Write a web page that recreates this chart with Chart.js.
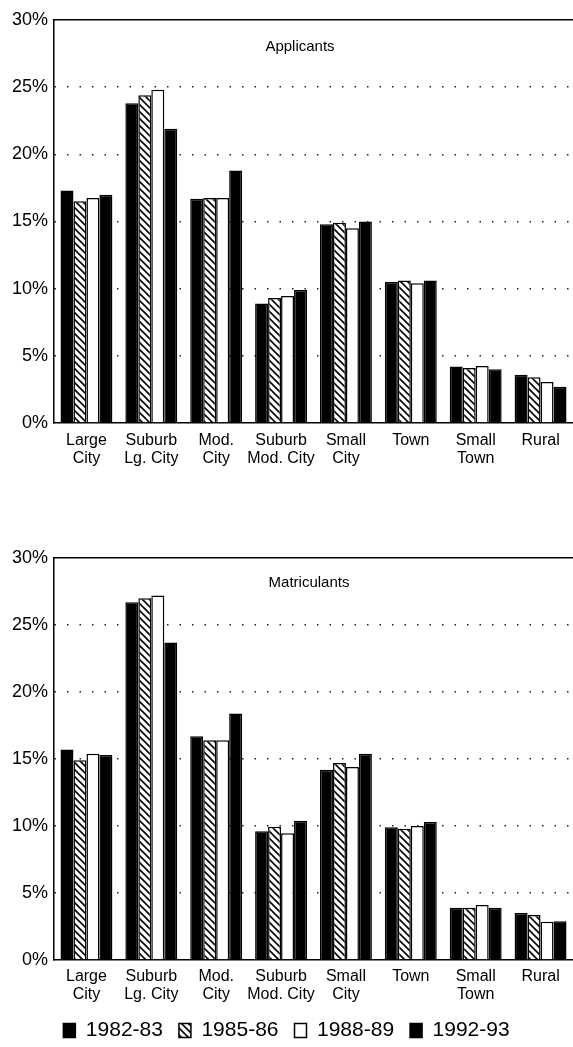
<!DOCTYPE html>
<html>
<head>
<meta charset="utf-8">
<script src="https://cdn.jsdelivr.net/npm/chart.js@4/dist/chart.umd.min.js"></script>
<style>
  body { margin: 0; background: #fff; }
  canvas { position: absolute; left: 0; }
  #chartApp { top: 0; }
  #chartMat { top: 520px; }
</style>
</head>
<body>
<canvas id="chartApp" width="573" height="490"></canvas>
<canvas id="chartMat" width="573" height="527"></canvas>
<script>
const categories = [["Large", "City"], ["Suburb", "Lg. City"], ["Mod.", "City"], ["Suburb", "Mod. City"], ["Small", "City"], ["Town"], ["Small", "Town"], ["Rural"]];
const seriesLabels = ["1982-83", "1985-86", "1988-89", "1992-93"];
const yTicks = [0, 5, 10, 15, 20, 25, 30];

// Applicants (%)
const app8283 = [17.3, 23.8, 16.7, 8.9, 14.8, 10.5, 4.2, 3.6];
const app8586 = [16.5, 24.4, 16.75, 9.3, 14.9, 10.6, 4.1, 3.4];
const app8889 = [16.75, 24.8, 16.75, 9.45, 14.5, 10.4, 4.25, 3.05];
const app9293 = [17.0, 21.9, 18.8, 9.9, 15.0, 10.6, 4.0, 2.7];

// Matriculants (%)
const mat8283 = [15.7, 26.7, 16.7, 9.6, 14.2, 9.9, 3.9, 3.5];
const mat8586 = [14.9, 27.0, 16.4, 9.95, 14.7, 9.8, 3.9, 3.35];
const mat8889 = [15.4, 27.2, 16.4, 9.45, 14.4, 10.0, 4.1, 2.85];
const mat9293 = [15.3, 23.7, 18.4, 10.4, 15.4, 10.3, 3.9, 2.9];

const fontFamily = "'Liberation Sans', Arial, Helvetica, sans-serif";

function makeHatch() {
    const c = document.createElement("canvas");
    c.width = 7;
    c.height = 7;
    const g = c.getContext("2d");
    g.fillStyle = "#fff";
    g.fillRect(0, 0, 7, 7);
    g.strokeStyle = "#000";
    g.lineWidth = 1.6;
    g.beginPath();
    g.moveTo(-1, -1); g.lineTo(8, 8);
    g.moveTo(-1, 6); g.lineTo(1, 8);
    g.moveTo(6, -1); g.lineTo(8, 1);
    g.stroke();
    return g.createPattern(c, "repeat");
}
const hatch = makeHatch();
const fills = ["#000", hatch, "#fff", "#000"];

// draws the panel name inside the plot area
const panelTitle = {
    id: "panelTitle",
    afterDraw(chart, args, opts) {
        const ctx = chart.ctx;
        ctx.save();
        ctx.font = "15px " + fontFamily;
        ctx.fillStyle = "#000";
        ctx.textAlign = "center";
        ctx.textBaseline = "middle";
        ctx.fillText(opts.text, opts.x, opts.y);
        ctx.restore();
    }
};

// keep the legend strip a fixed height
const legendHeight = {
    id: "legendHeight",
    beforeLayout(chart, args, opts) {
        const lg = chart.legend;
        if (!lg || lg._fixed || !opts.height) return;
        const fit = lg.fit;
        lg.fit = function () {
            fit.call(this);
            this.height = opts.height;
        };
        lg._fixed = true;
    }
};

function buildDatasets(series) {
    return series.map((values, i) => ({
        label: seriesLabels[i],
        data: values,
        backgroundColor: fills[i],
        borderColor: "#000",
        borderWidth: 1.5,
        categoryPercentage: 0.8,
        barPercentage: 1.0
    }));
}

function makeConfig(series, title, titleX, titleY, showLegend, padTop, xHeight, tickPad) {
    return {
        type: "bar",
        data: { labels: categories, datasets: buildDatasets(series) },
        options: {
            responsive: false,
            animation: false,
            layout: { padding: { top: padTop, right: 0, left: 0, bottom: 0 } },
            plugins: {
                legend: {
                    display: showLegend,
                    position: "bottom",
                    labels: {
                        color: "#000",
                        font: { family: fontFamily, size: 21 },
                        boxWidth: 12,
                        boxHeight: 14,
                        padding: 16
                    }
                },
                legendHeight: { height: showLegend ? 43 : 0 },
                tooltip: { enabled: false },
                panelTitle: { text: title, x: titleX, y: titleY }
            },
            scales: {
                x: {
                    grid: { display: false, drawTicks: false },
                    border: { display: true, color: "#000", width: 1.5 },
                    ticks: {
                        color: "#000",
                        font: { family: fontFamily, size: 16, lineHeight: 1.1 },
                        padding: tickPad,
                        maxRotation: 0,
                        autoSkip: false
                    },
                    afterFit: (scale) => { scale.height = xHeight; }
                },
                xTop: {
                    type: "category",
                    position: "top",
                    labels: categories,
                    grid: { display: false, drawTicks: false },
                    border: { display: true, color: "#000", width: 1.5 },
                    ticks: { display: false },
                    afterFit: (scale) => { scale.height = 0; }
                },
                y: {
                    min: 0,
                    max: 30,
                    afterBuildTicks: (scale) => { scale.ticks = yTicks.map(v => ({ value: v })); },
                    grid: {
                        drawTicks: false,
                        lineWidth: 1.5,
                        color: (ctx) => (ctx.tick && (ctx.tick.value === 0 || ctx.tick.value === 30)) ? "rgba(0,0,0,0)" : "#222"
                    },
                    border: { display: true, color: "#000", width: 1.5, dash: [1.5, 11] },
                    ticks: {
                        color: "#000",
                        font: { family: fontFamily, size: 18 },
                        padding: 6,
                        callback: (v) => v + "%"
                    },
                    afterFit: (scale) => { scale.width = 54; }
                }
            }
        },
        plugins: [panelTitle, legendHeight]
    };
}

new Chart(document.getElementById("chartApp"),
    makeConfig([app8283, app8586, app8889, app9293], "Applicants", 300, 47, false, 20, 67, 9));

new Chart(document.getElementById("chartMat"),
    makeConfig([mat8283, mat8586, mat8889, mat9293], "Matriculants", 309, 63, true, 38, 44, 8));
</script>
</body>
</html>
